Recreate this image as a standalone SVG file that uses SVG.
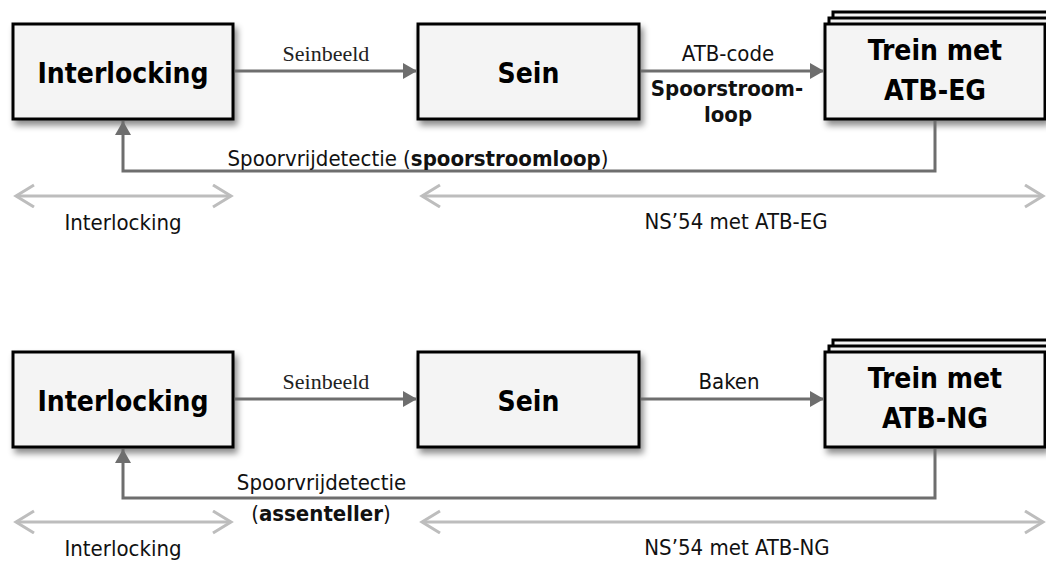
<svg xmlns="http://www.w3.org/2000/svg" width="1046" height="561" viewBox="0 0 1046 561">
<defs>
<style>
.box{fill:#f4f4f4;stroke:#000;stroke-width:3}
.shadow{filter:url(#sh)}
.bt{font-family:"DejaVu Sans Condensed","DejaVu Sans",sans-serif;font-stretch:condensed;font-weight:bold;font-size:28px;fill:#000;text-anchor:middle}
.lb{font-family:"DejaVu Sans Condensed","DejaVu Sans",sans-serif;font-stretch:condensed;font-size:22px;fill:#111;text-anchor:middle}
.b{font-weight:bold}
.sf{font-family:"Liberation Serif","Times New Roman",serif;font-size:22px;fill:#222;text-anchor:middle}
.ln{fill:none;stroke:#6e6e6e;stroke-width:3}
.gr{fill:none;stroke:#bdbdbd;stroke-width:3}
</style>
<filter id="sh" x="-10%" y="-10%" width="130%" height="140%">
<feDropShadow dx="3" dy="5" stdDeviation="3" flood-color="#000" flood-opacity="0.45"/>
</filter>
<marker id="ah" markerUnits="userSpaceOnUse" markerWidth="16" markerHeight="18" refX="14" refY="8" orient="auto">
<path d="M0,0 L14,8 L0,16 Z" fill="#6e6e6e"/>
</marker>
<marker id="ch" markerUnits="userSpaceOnUse" markerWidth="22" markerHeight="28" refX="19" refY="12" orient="auto-start-reverse">
<path d="M1,1 L19,12 L1,23" fill="none" stroke="#bdbdbd" stroke-width="3"/>
</marker>
</defs>
<rect width="1046" height="561" fill="#fff"/>

<!-- Top section -->
<g id="interlocking1">
<rect class="box shadow" x="13" y="24" width="220" height="95"/>
<text class="bt" x="123" y="83">Interlocking</text>
</g>
<g id="sein1">
<rect class="box shadow" x="418" y="24" width="221" height="95"/>
<text class="bt" x="528.5" y="83">Sein</text>
</g>
<g id="trein1">
<rect class="box" x="833" y="12" width="220" height="95"/>
<rect class="box" x="829" y="18" width="220" height="95"/>
<rect class="box shadow" x="825" y="24" width="220" height="95"/>
<text class="bt" x="935" y="60">Trein met</text>
<text class="bt" x="935" y="100">ATB-EG</text>
</g>

<!-- Bottom section -->
<g id="interlocking2">
<rect class="box shadow" x="13" y="352" width="220" height="95"/>
<text class="bt" x="123" y="411">Interlocking</text>
</g>
<g id="sein2">
<rect class="box shadow" x="418" y="352" width="221" height="95"/>
<text class="bt" x="528.5" y="411">Sein</text>
</g>
<g id="trein2">
<rect class="box" x="833" y="340" width="220" height="95"/>
<rect class="box" x="829" y="346" width="220" height="95"/>
<rect class="box shadow" x="825" y="352" width="220" height="95"/>
<text class="bt" x="935" y="388">Trein met</text>
<text class="bt" x="935" y="428">ATB-NG</text>
</g>

<g id="connectors">
<!-- top -->
<line class="ln" x1="235" y1="71" x2="417" y2="71" marker-end="url(#ah)"/>
<text class="sf" x="326" y="61">Seinbeeld</text>
<line class="ln" x1="641" y1="71" x2="824" y2="71" marker-end="url(#ah)"/>
<text class="lb" x="728" y="61">ATB-code</text>
<text class="lb b" x="727" y="96">Spoorstroom-</text>
<text class="lb b" x="728" y="122">loop</text>
<polyline class="ln" points="935,121 935,171 123,171 123,121" marker-end="url(#ah)"/>
<text class="lb" x="418" y="166">Spoorvrijdetectie (<tspan class="b">spoorstroomloop</tspan>)</text>
<line class="gr" x1="16" y1="196" x2="231" y2="196" marker-start="url(#ch)" marker-end="url(#ch)"/>
<line class="gr" x1="422" y1="196" x2="1043" y2="196" marker-start="url(#ch)" marker-end="url(#ch)"/>
<text class="lb" x="123" y="230">Interlocking</text>
<text class="lb" x="736" y="229">NS’54 met ATB-EG</text>

<!-- bottom -->
<line class="ln" x1="235" y1="399" x2="417" y2="399" marker-end="url(#ah)"/>
<text class="sf" x="326" y="389">Seinbeeld</text>
<line class="ln" x1="641" y1="399" x2="824" y2="399" marker-end="url(#ah)"/>
<text class="lb" x="729" y="389">Baken</text>
<polyline class="ln" points="935,449 935,498 123,498 123,449" marker-end="url(#ah)"/>
<text class="lb" x="321.5" y="490">Spoorvrijdetectie</text>
<text class="lb" x="321" y="521">(<tspan class="b">assenteller</tspan>)</text>
<line class="gr" x1="16" y1="522" x2="231" y2="522" marker-start="url(#ch)" marker-end="url(#ch)"/>
<line class="gr" x1="422" y1="522" x2="1043" y2="522" marker-start="url(#ch)" marker-end="url(#ch)"/>
<text class="lb" x="123" y="556">Interlocking</text>
<text class="lb" x="737" y="555">NS’54 met ATB-NG</text>
</g>
</svg>
